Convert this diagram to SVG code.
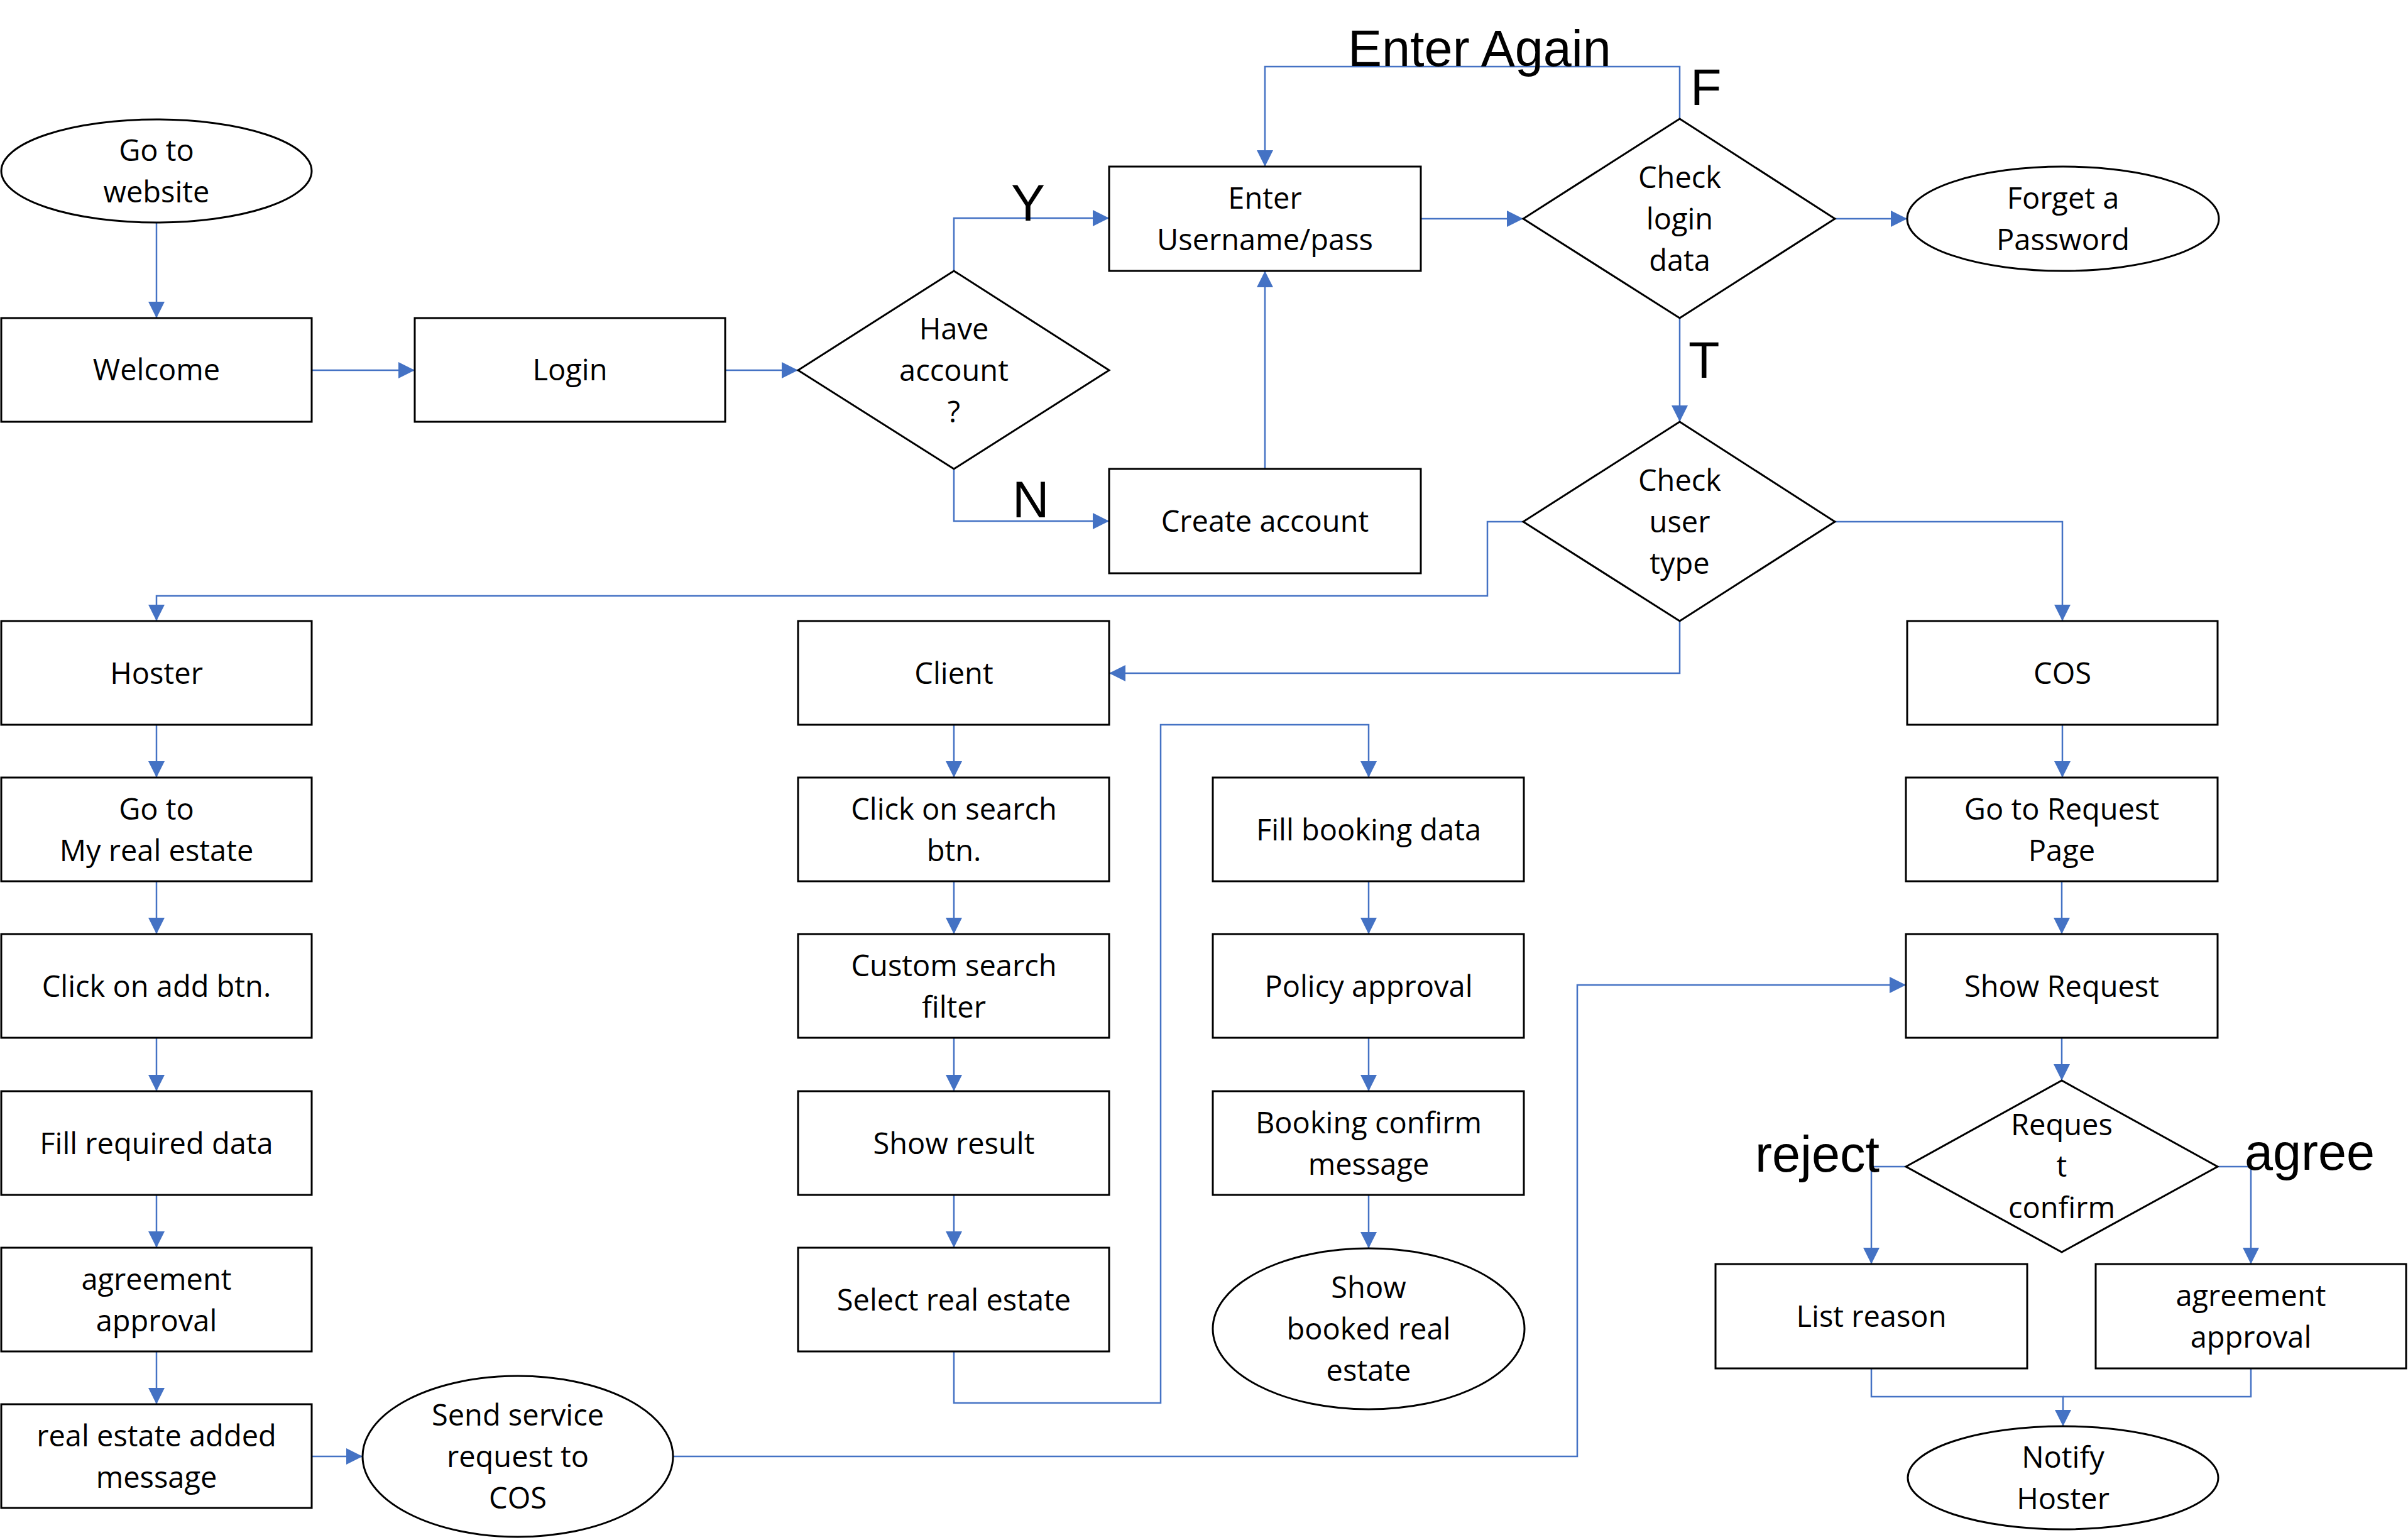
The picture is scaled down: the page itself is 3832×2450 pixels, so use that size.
<svg xmlns="http://www.w3.org/2000/svg" width="3832" height="2450" viewBox="0 0 3832 2450">
<style>
.n{fill:#fff;stroke:#000;stroke-width:3}
.t{font-family:"Open Sans","Noto Sans",sans-serif;font-size:47px;fill:#000;text-anchor:middle}
.l{font-family:"Liberation Sans",Arial,sans-serif;font-size:81px;fill:#000}
.c{fill:none;stroke:#4472C4;stroke-width:2.5}
</style>
<defs>
<marker id="a" markerUnits="userSpaceOnUse" markerWidth="26" markerHeight="26" refX="26" refY="13" orient="auto">
<path d="M0,0 L26,13 L0,26 z" fill="#4472C4"/>
</marker>
</defs>
<rect width="3832" height="2450" fill="#fff"/>
<g id="connectors">
<path class="c" marker-end="url(#a)" d="M249,354 V506"/>
<path class="c" marker-end="url(#a)" d="M496,589 H660"/>
<path class="c" marker-end="url(#a)" d="M1154,589 H1270"/>
<path class="c" marker-end="url(#a)" d="M1518,431 V347 H1765"/>
<path class="c" marker-end="url(#a)" d="M1518,746 V829 H1765"/>
<path class="c" marker-end="url(#a)" d="M2013,746 V431"/>
<path class="c" marker-end="url(#a)" d="M2261,348 H2424"/>
<path class="c" marker-end="url(#a)" d="M2920,348 H3035"/>
<path class="c" marker-end="url(#a)" d="M2673,189 V106 H2013 V265"/>
<path class="c" marker-end="url(#a)" d="M2673,506 V671"/>
<path class="c" marker-end="url(#a)" d="M2424,830 H2367 V948 H249 V988"/>
<path class="c" marker-end="url(#a)" d="M2673,988 V1071 H1765"/>
<path class="c" marker-end="url(#a)" d="M2920,830 H3282 V988"/>
<path class="c" marker-end="url(#a)" d="M249,1153 V1237"/>
<path class="c" marker-end="url(#a)" d="M249,1402 V1486"/>
<path class="c" marker-end="url(#a)" d="M249,1651 V1736"/>
<path class="c" marker-end="url(#a)" d="M249,1901 V1985"/>
<path class="c" marker-end="url(#a)" d="M249,2150 V2234"/>
<path class="c" marker-end="url(#a)" d="M496,2317 H577"/>
<path class="c" marker-end="url(#a)" d="M1071,2317 H2510 V1567 H3033"/>
<path class="c" marker-end="url(#a)" d="M1518,1153 V1237"/>
<path class="c" marker-end="url(#a)" d="M1518,1402 V1486"/>
<path class="c" marker-end="url(#a)" d="M1518,1651 V1736"/>
<path class="c" marker-end="url(#a)" d="M1518,1901 V1985"/>
<path class="c" marker-end="url(#a)" d="M1518,2150 V2232 H1847 V1153 H2178 V1237"/>
<path class="c" marker-end="url(#a)" d="M2178,1402 V1486"/>
<path class="c" marker-end="url(#a)" d="M2178,1651 V1736"/>
<path class="c" marker-end="url(#a)" d="M2178,1901 V1986"/>
<path class="c" marker-end="url(#a)" d="M3282,1153 V1237"/>
<path class="c" marker-end="url(#a)" d="M3281,1402 V1486"/>
<path class="c" marker-end="url(#a)" d="M3281,1651 V1719"/>
<path class="c" marker-end="url(#a)" d="M3033,1856 H2978 V2011"/>
<path class="c" marker-end="url(#a)" d="M3529,1856 H3582 V2011"/>
<path class="c" marker-end="url(#a)" d="M2978,2177 V2222 H3283 V2269"/>
<path class="c" d="M3582,2177 V2222 H3283"/>
</g>
<g id="labels">
<text class="l" x="2145" y="105">Enter Again</text>
<text class="l" x="2690" y="167">F</text>
<text class="l" x="1609" y="351">Y</text>
<text class="l" x="1611" y="823">N</text>
<text class="l" x="2687" y="601">T</text>
<text class="l" x="2793" y="1864">reject</text>
<text class="l" x="3572" y="1861">agree</text>
</g>
<g id="go-to-website"><ellipse class="n" cx="249" cy="272" rx="247" ry="82"/><text class="t"><tspan x="249" y="256">Go to</tspan><tspan x="249" y="322">website</tspan></text></g>
<g id="welcome"><rect class="n" x="2" y="506" width="494" height="165"/><text class="t" x="249" y="605">Welcome</text></g>
<g id="login"><rect class="n" x="660" y="506" width="494" height="165"/><text class="t" x="907" y="605">Login</text></g>
<g id="have-account"><polygon class="n" points="1270,589 1518,431 1765,589 1518,746"/><text class="t"><tspan x="1518" y="540">Have</tspan><tspan x="1518" y="606">account</tspan><tspan x="1518" y="672">?</tspan></text></g>
<g id="enter-username"><rect class="n" x="1765" y="265" width="496" height="166"/><text class="t"><tspan x="2013" y="332">Enter</tspan><tspan x="2013" y="398">Username/pass</tspan></text></g>
<g id="create-account"><rect class="n" x="1765" y="746" width="496" height="166"/><text class="t" x="2013" y="846">Create account</text></g>
<g id="check-login"><polygon class="n" points="2424,348 2673,189 2920,348 2673,506"/><text class="t"><tspan x="2673" y="299">Check</tspan><tspan x="2673" y="365">login</tspan><tspan x="2673" y="431">data</tspan></text></g>
<g id="forget-password"><ellipse class="n" cx="3283" cy="348" rx="248" ry="83"/><text class="t"><tspan x="3283" y="332">Forget a</tspan><tspan x="3283" y="398">Password</tspan></text></g>
<g id="check-user-type"><polygon class="n" points="2424,830 2673,671 2920,830 2673,988"/><text class="t"><tspan x="2673" y="781">Check</tspan><tspan x="2673" y="847">user</tspan><tspan x="2673" y="913">type</tspan></text></g>
<g id="hoster"><rect class="n" x="2" y="988" width="494" height="165"/><text class="t" x="249" y="1088">Hoster</text></g>
<g id="my-real-estate"><rect class="n" x="2" y="1237" width="494" height="165"/><text class="t"><tspan x="249" y="1304">Go to</tspan><tspan x="249" y="1370">My real estate</tspan></text></g>
<g id="click-add"><rect class="n" x="2" y="1486" width="494" height="165"/><text class="t" x="249" y="1586">Click on add btn.</text></g>
<g id="fill-required"><rect class="n" x="2" y="1736" width="494" height="165"/><text class="t" x="249" y="1836">Fill required data</text></g>
<g id="agreement-approval-1"><rect class="n" x="2" y="1985" width="494" height="165"/><text class="t"><tspan x="249" y="2052">agreement</tspan><tspan x="249" y="2118">approval</tspan></text></g>
<g id="real-estate-added"><rect class="n" x="2" y="2234" width="494" height="165"/><text class="t"><tspan x="249" y="2301">real estate added</tspan><tspan x="249" y="2367">message</tspan></text></g>
<g id="send-service"><ellipse class="n" cx="824" cy="2317" rx="247" ry="128"/><text class="t"><tspan x="824" y="2268">Send service</tspan><tspan x="824" y="2334">request to</tspan><tspan x="824" y="2400">COS</tspan></text></g>
<g id="client"><rect class="n" x="1270" y="988" width="495" height="165"/><text class="t" x="1518" y="1088">Client</text></g>
<g id="click-search"><rect class="n" x="1270" y="1237" width="495" height="165"/><text class="t"><tspan x="1518" y="1304">Click on search</tspan><tspan x="1518" y="1370">btn.</tspan></text></g>
<g id="custom-search"><rect class="n" x="1270" y="1486" width="495" height="165"/><text class="t"><tspan x="1518" y="1553">Custom search</tspan><tspan x="1518" y="1619">filter</tspan></text></g>
<g id="show-result"><rect class="n" x="1270" y="1736" width="495" height="165"/><text class="t" x="1518" y="1836">Show result</text></g>
<g id="select-real-estate"><rect class="n" x="1270" y="1985" width="495" height="165"/><text class="t" x="1518" y="2085">Select real estate</text></g>
<g id="fill-booking"><rect class="n" x="1930" y="1237" width="495" height="165"/><text class="t" x="2178" y="1337">Fill booking data</text></g>
<g id="policy-approval"><rect class="n" x="1930" y="1486" width="495" height="165"/><text class="t" x="2178" y="1586">Policy approval</text></g>
<g id="booking-confirm"><rect class="n" x="1930" y="1736" width="495" height="165"/><text class="t"><tspan x="2178" y="1803">Booking confirm</tspan><tspan x="2178" y="1869">message</tspan></text></g>
<g id="show-booked"><ellipse class="n" cx="2178" cy="2114" rx="248" ry="128"/><text class="t"><tspan x="2178" y="2065">Show</tspan><tspan x="2178" y="2131">booked real</tspan><tspan x="2178" y="2197">estate</tspan></text></g>
<g id="cos"><rect class="n" x="3035" y="988" width="494" height="165"/><text class="t" x="3282" y="1088">COS</text></g>
<g id="go-to-request"><rect class="n" x="3033" y="1237" width="496" height="165"/><text class="t"><tspan x="3281" y="1304">Go to Request</tspan><tspan x="3281" y="1370">Page</tspan></text></g>
<g id="show-request"><rect class="n" x="3033" y="1486" width="496" height="165"/><text class="t" x="3281" y="1586">Show Request</text></g>
<g id="request-confirm"><polygon class="n" points="3033,1856 3281,1719 3529,1856 3281,1992"/><text class="t"><tspan x="3281" y="1806">Reques</tspan><tspan x="3281" y="1872">t</tspan><tspan x="3281" y="1938">confirm</tspan></text></g>
<g id="list-reason"><rect class="n" x="2730" y="2011" width="496" height="166"/><text class="t" x="2978" y="2111">List reason</text></g>
<g id="agreement-approval-2"><rect class="n" x="3335" y="2011" width="494" height="166"/><text class="t"><tspan x="3582" y="2078">agreement</tspan><tspan x="3582" y="2144">approval</tspan></text></g>
<g id="notify-hoster"><ellipse class="n" cx="3283" cy="2351" rx="247" ry="82"/><text class="t"><tspan x="3283" y="2335">Notify</tspan><tspan x="3283" y="2401">Hoster</tspan></text></g>
</svg>
